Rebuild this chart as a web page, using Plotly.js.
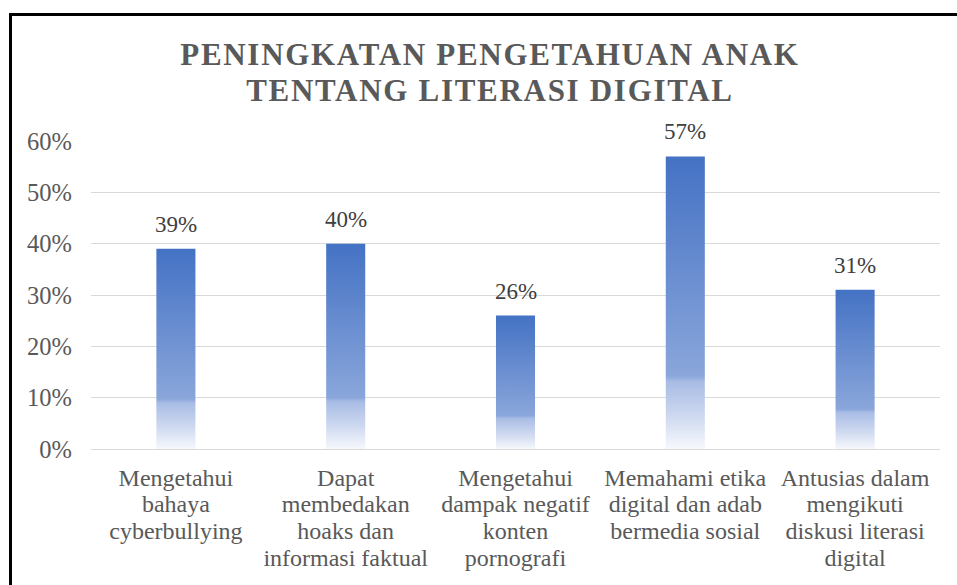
<!DOCTYPE html>
<html>
<head>
<meta charset="utf-8">
<script src="https://cdn.plot.ly/plotly-3.0.1.min.js"></script>
<style>
  html, body { margin: 0; padding: 0; background: #ffffff; overflow: hidden; }
  #chart { width: 957px; height: 585px; }
  #frame { position: absolute; left: 9px; top: 13px; width: 2000px; height: 2000px;
           border: 3px solid #000; pointer-events: none; box-sizing: border-box; }
</style>
</head>
<body>
<div id="chart"></div>
<div id="frame"></div>
<script>
const categories = [
  "Mengetahui<br>bahaya<br>cyberbullying",
  "Dapat<br>membedakan<br>hoaks dan<br>informasi faktual",
  "Mengetahui<br>dampak negatif<br>konten<br>pornografi",
  "Memahami etika<br>digital dan adab<br>bermedia sosial",
  "Antusias dalam<br>mengikuti<br>diskusi literasi<br>digital"
];
const values = [0.39, 0.40, 0.26, 0.57, 0.31];
const yTickVals = [0, 0.1, 0.2, 0.3, 0.4, 0.5, 0.6];
const chartTitle = "PENINGKATAN PENGETAHUAN ANAK<br>TENTANG LITERASI DIGITAL";

const serif = 'Liberation Serif';

const trace = {
  type: 'bar',
  x: categories,
  y: values,
  marker: { color: '#4472c4', line: { width: 0 } },
  hoverinfo: 'none'
};

const annotations = categories.map((c, i) => ({
  x: c, y: values[i], xref: 'x', yref: 'y',
  text: Math.round(values[i] * 100) + '%',
  showarrow: false, yanchor: 'bottom', yshift: 10,
  font: { family: serif, size: 23, color: '#404040' }
}));

const layout = {
  width: 957, height: 585,
  margin: { l: 91, r: 17, t: 141, b: 136 },
  paper_bgcolor: '#ffffff', plot_bgcolor: '#ffffff',
  showlegend: false,
  bargap: 0.77,
  font: { family: serif },
  title: {
    text: chartTitle,
    font: { family: serif, size: 31, color: '#595959', weight: 'bold' },
    x: 0.512, xanchor: 'center', xref: 'container',
    y: 0.889, yanchor: 'top', yref: 'container'
  },
  xaxis: {
    type: 'category',
    showgrid: false, zeroline: false,
    showline: true, linecolor: '#d9d9d9', linewidth: 1,
    ticks: '', ticklabelstandoff: 7,
    tickfont: { family: serif, size: 24, color: '#595959' },
    tickangle: 0, fixedrange: true
  },
  yaxis: {
    range: [0, 0.6], tickvals: yTickVals, tickformat: '.0%',
    showgrid: true, gridcolor: '#d9d9d9', gridwidth: 1,
    zeroline: false, showline: false, ticks: '',
    ticklabelstandoff: 18,
    tickfont: { family: serif, size: 24.5, color: '#595959' },
    fixedrange: true
  },
  annotations: annotations
};

function respace(textEl, k) {
  textEl.querySelectorAll('tspan.line').forEach((ts, i) => {
    ts.setAttribute('dy', (i * k) + 'em');
  });
}

Plotly.newPlot('chart', [trace], layout, { displayModeBar: false, staticPlot: true }).then(gd => {
  const svg = gd.querySelector('svg.main-svg');
  const ns = 'http://www.w3.org/2000/svg';
  let defs = svg.querySelector('defs');
  if (!defs) { defs = document.createElementNS(ns, 'defs'); svg.insertBefore(defs, svg.firstChild); }
  const grad = document.createElementNS(ns, 'linearGradient');
  grad.setAttribute('id', 'barGrad');
  grad.setAttribute('x1', '0'); grad.setAttribute('y1', '0');
  grad.setAttribute('x2', '0'); grad.setAttribute('y2', '1');
  const stops = [[0, '#4472c4'], [0.75, '#8aa6db'], [0.77, '#a8bce5'], [0.9, '#d2dcf1'], [1, '#f6f8fc']];
  stops.forEach(([o, c]) => {
    const s = document.createElementNS(ns, 'stop');
    s.setAttribute('offset', o); s.setAttribute('stop-color', c);
    grad.appendChild(s);
  });
  defs.appendChild(grad);
  gd.querySelectorAll('.trace.bars .point path').forEach(p => {
    p.style.setProperty('fill', 'url(#barGrad)');
    p.style.setProperty('fill-opacity', '1');
  });
  gd.querySelectorAll('.xtick text').forEach(t => respace(t, 1.11));
  const t = gd.querySelector('.gtitle');
  if (t) {
    t.style.setProperty('letter-spacing', '1.7px');
    respace(t, 1.15);
  }
});
</script>
</body>
</html>
